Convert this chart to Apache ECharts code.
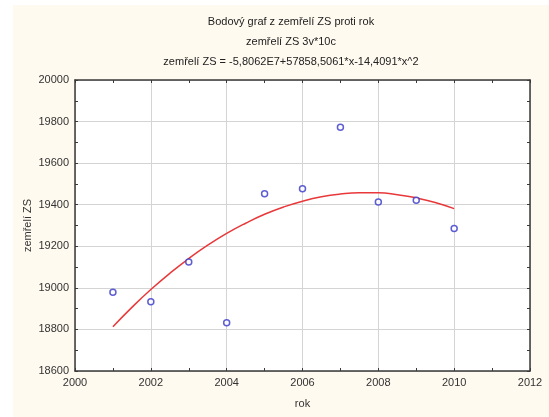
<!DOCTYPE html>
<html>
<head>
<meta charset="utf-8">
<script src="https://cdn.jsdelivr.net/npm/echarts@6/dist/echarts.min.js"></script>
<style>
html,body{margin:0;padding:0;background:#ffffff;width:549px;height:417px;overflow:hidden;}
#c{position:absolute;left:13px;top:5px;width:536px;height:412px;}
</style>
</head>
<body>
<div id="c"></div>
<script>
// Data
const years = [2001, 2002, 2003, 2004, 2005, 2006, 2007, 2008, 2009, 2010];
const deaths = [18979, 18933, 19125, 18832, 19453, 19477, 19773, 19413, 19421, 19286];
// Fitted curve (as drawn in the reference), sampled every half year
const fitX = [2001, 2001.5, 2002, 2002.5, 2003, 2003.5, 2004, 2004.5, 2005, 2005.5, 2006, 2006.5, 2007, 2007.5, 2008, 2008.5, 2009, 2009.5, 2010];
const fitY = [18813, 18906, 18992, 19070, 19141, 19205, 19262, 19311, 19354, 19389, 19417, 19438, 19451, 19457, 19457, 19448, 19433, 19411, 19381];
const titleLines = [
  'Bodový graf z zemřelí ZS proti rok',
  'zemřelí ZS 3v*10c',
  'zemřelí ZS = -5,8062E7+57858,5061*x-14,4091*x^2'
];
const xName = 'rok';
const yName = 'zemřelí ZS';

const chart = echarts.init(document.getElementById('c'), null, {renderer: 'canvas'});
const font = 'Liberation Sans, Arial, sans-serif';
const plain = v => String(v);
const frameAxisX = (pos, labels) => ({
  type: 'value', position: pos, min: 2000, max: 2012, interval: 2,
  axisLine: {show: true, onZero: false, lineStyle: {color: '#3a3a3a', width: 1.5}},
  axisTick: {show: true, inside: true, length: 3, lineStyle: {color: '#3a3a3a'}},
  minorTick: {show: true, splitNumber: 2, length: 3, lineStyle: {color: '#3a3a3a'}},
  axisLabel: labels ? {show: true, color: '#333', fontSize: 11, fontFamily: font, margin: 6, formatter: plain} : {show: false},
  splitLine: {show: labels, lineStyle: {color: '#d4d4d4', width: 1}},
  minorSplitLine: {show: false}
});
const frameAxisY = (pos, labels) => ({
  type: 'value', position: pos, min: 18600, max: 20000, interval: 200,
  axisLine: {show: true, onZero: false, lineStyle: {color: '#3a3a3a', width: 1.5}},
  axisTick: {show: true, inside: true, length: 3, lineStyle: {color: '#3a3a3a'}},
  minorTick: {show: true, splitNumber: 2, length: 3, lineStyle: {color: '#3a3a3a'}},
  axisLabel: labels ? {show: true, color: '#333', fontSize: 11, fontFamily: font, margin: 6, formatter: plain} : {show: false},
  splitLine: {show: labels, lineStyle: {color: '#d4d4d4', width: 1}},
  minorSplitLine: {show: false}
});
const xMain = frameAxisX('bottom', true);
xMain.name = xName; xMain.nameLocation = 'middle'; xMain.nameGap = 27; xMain.nameMoveOverlap = false;
xMain.nameTextStyle = {color: '#333', fontSize: 11, fontFamily: font};
const yMain = frameAxisY('left', true);
yMain.name = yName; yMain.nameLocation = 'middle'; yMain.nameGap = 42; yMain.nameMoveOverlap = false;
yMain.nameTextStyle = {color: '#333', fontSize: 11, fontFamily: font};

chart.setOption({
  backgroundColor: '#fffaf0',
  animation: false,
  graphic: titleLines.map((t, i) => ({
    type: 'text', x: 278, y: 17 + i * 20, z: 10,
    style: {text: t, fill: '#222', fontSize: 11, fontFamily: font, align: 'center', verticalAlign: 'middle'}
  })),
  grid: {left: 62, right: 19, top: 75, bottom: 46, show: true, backgroundColor: '#ffffff', borderWidth: 0,
         containLabel: false, outerBoundsMode: 'none'},
  xAxis: [xMain, frameAxisX('top', false)],
  yAxis: [yMain, frameAxisY('right', false)],
  series: [
    {
      type: 'line', data: fitX.map((x, i) => [x, fitY[i]]), smooth: true, showSymbol: false,
      lineStyle: {color: '#e8383a', width: 1.5}, z: 2
    },
    {
      type: 'scatter', data: years.map((x, i) => [x, deaths[i]]), symbol: 'circle', symbolSize: 6,
      itemStyle: {color: '#ffffff', borderColor: '#3636c8', borderWidth: 1.5}, z: 3
    }
  ]
});
</script>
</body>
</html>
